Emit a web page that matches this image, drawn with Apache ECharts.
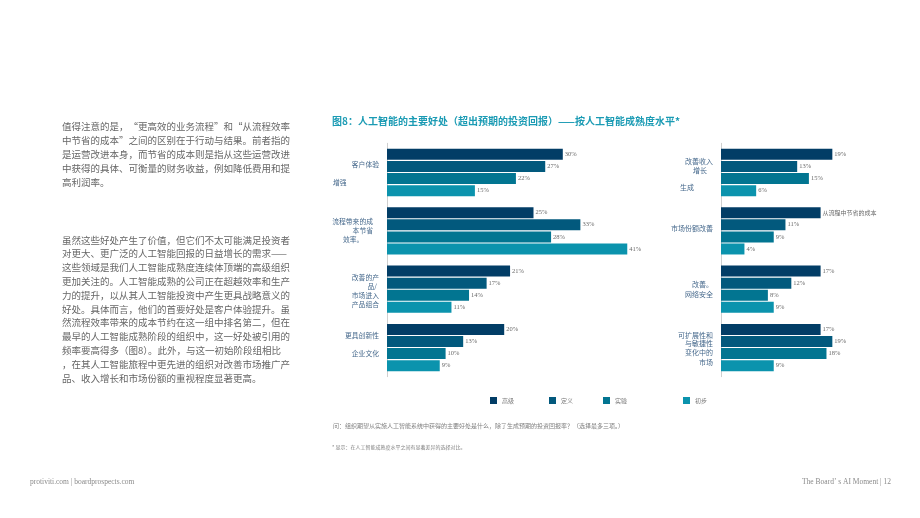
<!DOCTYPE html>
<html>
<head>
<meta charset="utf-8">
<script src="https://cdn.jsdelivr.net/npm/echarts@6/dist/echarts.min.js"></script>
<style>
  html, body { margin: 0; padding: 0; background: #fff; }
  #main { width: 920px; height: 518px; }
</style>
</head>
<body>
<div id="main"></div>
<script>
// data
var levels = ['高级', '定义', '实验', '初步'];
var levelColors = ['#023d66', '#02597d', '#027591', '#0b93ad'];

var leftCats = ['客户体验增强', '流程带来的成本节省效率。', '改善的产品/市场进入产品组合', '更具创新性企业文化'];
var leftVals = [
    [30, 25, 21, 20],   // 高级
    [27, 33, 17, 13],   // 定义
    [22, 28, 14, 10],   // 实验
    [15, 41, 11, 9]     // 初步
];

var rightCats = ['改善收入增长生成', '市场份额改善', '改善。网络安全', '可扩展性和与敏捷性变化中的市场'];
var rightVals = [
    [19, 17, 17, 17],
    [13, 11, 12, 19],
    [15, 9, 8, 18],
    [6, 4, 9, 9]
];
// the one bar that shows a text instead of its value
var specialLabel = {series: 0, index: 1, text: '从流程中节省的成本'};

var title = '图8：人工智能的主要好处（超出预期的投资回报）——按人工智能成熟度水平*';
var question = '问：组织期望从实施人工智能系统中获得的主要好处是什么，除了生成预期的投资回报率？（选择最多三项。）';
var note = '* 显示：在人工智能成熟度水平之间有显著差异的选择对比。';
var footLeft = 'protiviti.com | boardprospects.com';
var footRight = 'The Board’ s AI Moment | 12';

var para1 = [
    '值得注意的是，“更高效的业务流程”和“从流程效率',
    '中节省的成本”之间的区别在于行动与结果。前者指的',
    '是运营改进本身，而节省的成本则是指从这些运营改进',
    '中获得的具体、可衡量的财务收益，例如降低费用和提',
    '高利润率。'
];
var para2 = [
    '虽然这些好处产生了价值，但它们不太可能满足投资者',
    '对更大、更广泛的人工智能回报的日益增长的需求——',
    '这些领域是我们人工智能成熟度连续体顶端的高级组织',
    '更加关注的。人工智能成熟的公司正在超越效率和生产',
    '力的提升，以从其人工智能投资中产生更具战略意义的',
    '好处。具体而言，他们的首要好处是客户体验提升。虽',
    '然流程效率带来的成本节约在这一组中排名第二，但在',
    '最早的人工智能成熟阶段的组织中，这一好处被引用的',
    '频率要高得多（图8）。此外，与这一初始阶段组相比',
    '，在其人工智能旅程中更先进的组织对改善市场推广产',
    '品、收入增长和市场份额的重视程度显著更高。'
];

// category label lines as they are broken in the figure
var leftLabelLines = [
    ['客户体验', '增强'],
    ['流程带来的成', '本节省', '效率。'],
    ['改善的产', '品/', '市场进入', '产品组合'],
    ['更具创新性', '企业文化']
];
var rightLabelLines = [
    ['改善收入', '增长', '生成'],
    ['市场份额改善'],
    ['改善。', '网络安全'],
    ['可扩展性和', '与敏捷性', '变化中的', '市场']
];

// layout of those lines: [x, y, align]
var leftLabelPos = [
    [[379, 164, 'right'], [333, 182, 'left']],
    [[373, 221, 'right'], [373, 230, 'right'], [343, 239, 'left']],
    [[379, 277, 'right'], [377, 286, 'right'], [379, 295, 'right'], [379, 304, 'right']],
    [[379, 335, 'right'], [379, 353, 'right']]
];
var rightLabelPos = [
    [[713, 161, 'right'], [707, 170, 'right'], [680, 187, 'left']],
    [[713, 228, 'right']],
    [[713, 284, 'right'], [713, 294, 'right']],
    [[713, 335, 'right'], [713, 343.5, 'right'], [713, 352.5, 'right'], [713, 362, 'right']]
];

var chart = echarts.init(document.getElementById('main'));

var CJK = '"Noto Sans CJK SC", sans-serif';
var SERIF = '"Liberation Serif", serif';

function makeSeries(vals, axisIdx, special) {
    return vals.map(function(row, s) {
        return {
            name: levels[s],
            type: 'bar',
            xAxisIndex: axisIdx,
            yAxisIndex: axisIdx,
            barWidth: 11,
            barGap: '10%',
            itemStyle: {color: levelColors[s]},
            label: {
                show: true,
                position: 'right',
                distance: 2,
                fontSize: 6.5,
                fontFamily: SERIF,
                color: '#6a6a6a',
                formatter: '{c}%'
            },
            data: row.map(function(v, i) {
                if (special && special.series === s && special.index === i) {
                    return {value: v, label: {formatter: special.text, fontFamily: CJK, fontSize: 6}};
                }
                return v;
            }),
            animation: false
        };
    });
}

var graphics = [];
function addText(text, x, y, size, color, opts) {
    opts = opts || {};
    graphics.push({
        type: 'text',
        x: x, y: y,
        style: {
            text: text,
            fontSize: size,
            fontFamily: opts.font || CJK,
            fontWeight: opts.weight || 'normal',
            fill: color,
            textAlign: opts.align || 'left',
            textVerticalAlign: 'middle'
        }
    });
}

addText(title, 332, 121, 10, '#1b9bb4', {weight: 'bold'});
para1.forEach(function(t, i) { addText(t, 62, 126 + i * 14, 9.5, '#666'); });
para2.forEach(function(t, i) { addText(t, 62, 240 + i * 13.8, 9.5, '#666'); });

leftLabelLines.forEach(function(lines, g) {
    lines.forEach(function(t, k) {
        var p = leftLabelPos[g][k];
        addText(t, p[0], p[1], 6.8, '#46698c', {align: p[2]});
    });
});
rightLabelLines.forEach(function(lines, g) {
    lines.forEach(function(t, k) {
        var p = rightLabelPos[g][k];
        addText(t, p[0], p[1], 7, '#46698c', {align: p[2]});
    });
});

addText(question, 333, 426, 6, '#808080');
addText(note, 332, 447.5, 5, '#808080');
addText(footLeft, 30, 482, 7.5, '#8a8a8a', {font: SERIF});
addText(footRight, 891, 482, 7.5, '#8a8a8a', {font: SERIF, align: 'right'});

var legendX = [485, 544, 598, 678];
var legends = levels.map(function(name, i) {
    return {
        data: [name],
        left: legendX[i],
        top: 392,
        icon: 'rect',
        itemWidth: 7,
        itemHeight: 7,
        textStyle: {fontSize: 6, color: '#777', fontFamily: CJK}
    };
});

var axisCommon = {
    type: 'category',
    inverse: true,
    axisLine: {show: true, lineStyle: {color: '#cfcfcf', width: 1}},
    axisTick: {show: false},
    axisLabel: {show: false}
};

var option = {
    backgroundColor: '#fff',
    animation: false,
    legend: legends,
    grid: [
        {left: 387, top: 143.3, width: 293, height: 233.4},
        {left: 721, top: 143.3, width: 175.8, height: 233.4}
    ],
    xAxis: [
        {type: 'value', gridIndex: 0, min: 0, max: 50, show: false},
        {type: 'value', gridIndex: 1, min: 0, max: 30, show: false}
    ],
    yAxis: [
        Object.assign({gridIndex: 0, data: leftCats}, axisCommon),
        Object.assign({gridIndex: 1, data: rightCats}, axisCommon)
    ],
    series: makeSeries(leftVals, 0).concat(makeSeries(rightVals, 1, specialLabel)),
    graphic: graphics
};

chart.setOption(option);
</script>
</body>
</html>
